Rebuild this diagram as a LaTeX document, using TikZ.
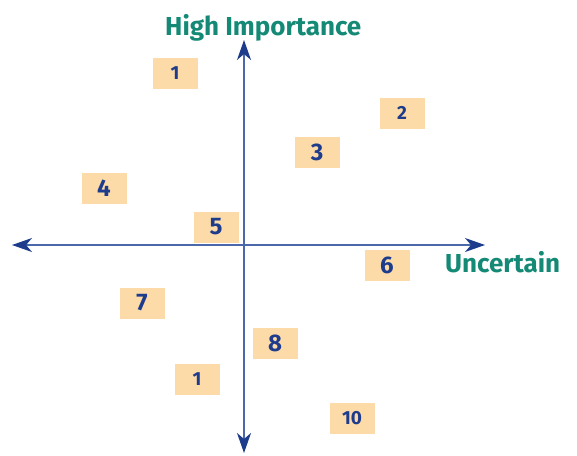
\documentclass[tikz,border=0pt]{standalone}
\usepackage{fontspec}
\setmainfont{Fira Sans}
\usepackage{xcolor}
\usetikzlibrary{arrows.meta}
\definecolor{axisC}{HTML}{1E3C8C}
\definecolor{lineC}{HTML}{4A68AA}
\definecolor{boxC}{HTML}{FDDBA9}
\definecolor{tealC}{HTML}{148A76}

\begin{document}
\begin{tikzpicture}[
    x=1pt, y=-1pt,
    item/.style={fill=boxC, minimum width=45pt, minimum height=31pt, inner sep=0pt,
                 font=\fontsize{24}{24}\selectfont\bfseries, text=axisC},
    small/.style={item, font=\fontsize{19}{19}\selectfont\bfseries},
    axislabel/.style={font=\fontsize{26}{26}\selectfont\bfseries, text=tealC, inner sep=0pt},
    arrow/.style={{Stealth[length=20pt,width=14pt,inset=6pt,color=axisC]}-{Stealth[length=20pt,width=14pt,inset=6pt,color=axisC]},
                  line width=1.2pt, draw=lineC}
]
\useasboundingbox (0,0) rectangle (577,455);
\node[small] (i1)  at (175,73)  {1};
\node[small] (i2)  at (402,113) {2};
\node[item]  (i3)  at (317,152) {3};
\node[item]  (i4)  at (104,188) {4};
\node[item]  (i5)  at (216,227) {5};
\node[item]  (i6)  at (387,265) {6};
\node[item]  (i7)  at (142,303) {7};
\node[item]  (i8)  at (275,343) {8};
\node[small] (i9)  at (197,379) {1};
\node[small] (i10) at (352,418) {10};

\coordinate (top) at (244,40);
\coordinate (bottom) at (244,453);
\coordinate (left) at (12,245);
\coordinate (right) at (485,245);
\draw[arrow] (left) -- (right);
\draw[arrow] (bottom) -- (top);

\node[axislabel, anchor=base west] (imp) at (165,35) {High Importance};
\node[axislabel, anchor=base west] (unc) at (445,272) {Uncertain};
\end{tikzpicture}
\end{document}
